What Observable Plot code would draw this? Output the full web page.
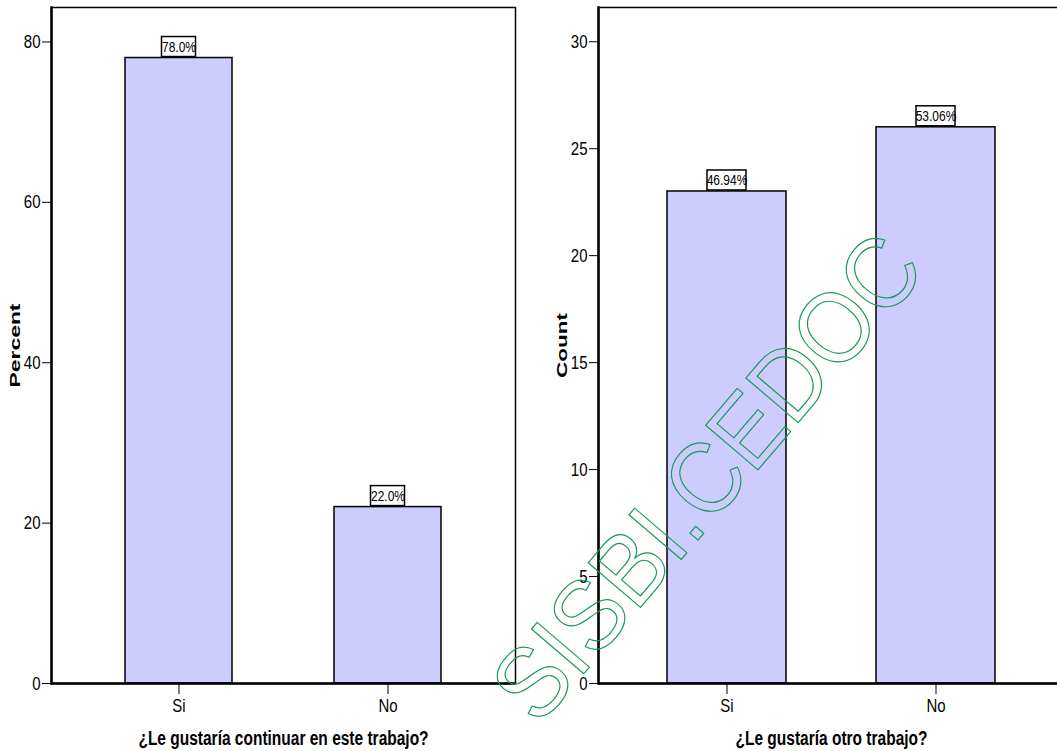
<!DOCTYPE html>
<html>
<head>
<meta charset="utf-8">
<script src="https://cdn.jsdelivr.net/npm/d3@7"></script>
<script src="https://cdn.jsdelivr.net/npm/@observablehq/plot@0.6"></script>
<style>
  html, body { margin: 0; padding: 0; background: #fff; }
  #wrap { position: relative; width: 1057px; height: 751px; overflow: hidden; background: #fff; }
  #wrap > svg { position: absolute; top: 0; }
</style>
</head>
<body>
<div id="wrap"></div>
<script>
// ---- data ----
const cats1 = ["Si", "No"];
const percent1 = [78.0, 22.0];
const labels1 = ["78.0%", "22.0%"];
const ticks1 = [0, 20, 40, 60, 80];
const xTitle1 = "¿Le gustaría continuar en este trabajo?";
const yTitle1 = "Percent";

const cats2 = ["Si", "No"];
const count2 = [23, 26];
const labels2 = ["46.94%", "53.06%"];
const ticks2 = [0, 5, 10, 15, 20, 25, 30];
const xTitle2 = "¿Le gustaría otro trabajo?";
const yTitle2 = "Count";

const watermark = "SISBI.CEDOC";

const data1 = cats1.map((c, i) => ({cat: c, v: percent1[i], label: labels1[i]}));
const data2 = cats2.map((c, i) => ({cat: c, v: count2[i], label: labels2[i]}));

const NARROW = "'Liberation Sans Narrow', 'Arial Narrow', 'Liberation Sans', sans-serif";
const WIDE = "'Liberation Sans', Arial, sans-serif";
const BAR = "#ccccff";

// wrap a text element in a <g> and scale it about its own centre (screen axes)
function stretchEl(el, sx, sy) {
  const g = document.createElementNS("http://www.w3.org/2000/svg", "g");
  el.parentNode.insertBefore(g, el);
  g.appendChild(el);
  const bb = g.getBBox();
  const cx = bb.x + bb.width / 2, cy = bb.y + bb.height / 2;
  g.setAttribute("transform",
    `translate(${cx},${cy}) scale(${sx},${sy}) translate(${-cx},${-cy})`);
}
function setLength(el, len) {
  el.setAttribute("textLength", len);
  el.setAttribute("lengthAdjust", "spacingAndGlyphs");
}

function panel({data, cats, ticks, ymax, xTitle, yTitle, width, ml, mr, pin, pout, boxInset}) {
  return Plot.plot({
    width, height: 751,
    marginLeft: ml, marginRight: mr, marginTop: 7, marginBottom: 68,
    style: {fontFamily: NARROW, fontSize: "15px", color: "#000", background: "transparent"},
    x: {domain: cats, paddingInner: pin, paddingOuter: pout, align: 0.5,
        tickSize: 11, tickPadding: 6, label: null},
    y: {domain: [0, ymax], ticks, tickSize: 9, tickPadding: 2, label: null, tickFormat: d => d},
    marks: [
      Plot.barY(data, {x: "cat", y: "v", fill: BAR, stroke: "#000", strokeWidth: 1.5}),
      Plot.barY(data, {x: "cat", y1: "v", y2: "v", insetLeft: boxInset, insetRight: boxInset,
                       insetTop: -21, insetBottom: 1, fill: "#fff", stroke: "#000", strokeWidth: 1.5}),
      Plot.text(data, {x: "cat", y: "v", text: "label", dy: -11, lineAnchor: "middle",
                       fontSize: 12, fontFamily: NARROW}),
      Plot.frame({stroke: "#000", strokeWidth: 1.5}),
      Plot.frame({anchor: "left", stroke: "#000", strokeWidth: 2.5}),
      Plot.ruleY([0], {stroke: "#000", strokeWidth: 2.5}),
      Plot.text([xTitle], {frameAnchor: "bottom", dy: 55, lineAnchor: "middle", textAnchor: "middle",
                           fontSize: 15.5, fontWeight: "bold", fontFamily: NARROW}),
      Plot.text([yTitle], {frameAnchor: "left", dx: -36, rotate: -90, lineAnchor: "middle",
                           textAnchor: "middle",
                           fontSize: 15, fontWeight: "bold", fontFamily: WIDE})
    ]
  });
}

const wrap = document.getElementById("wrap");

const left = panel({data: data1, cats: cats1, ticks: ticks1, ymax: 84.3,
  xTitle: xTitle1, yTitle: yTitle1, width: 530, ml: 51, mr: 15, pin: 0.488, pout: 0.354, boxInset: 36.5});
left.style.left = "0px";
wrap.appendChild(left);

const right = panel({data: data2, cats: cats2, ticks: ticks2, ymax: 31.6,
  xTitle: xTitle2, yTitle: yTitle2, width: 541, ml: 68, mr: 7, pin: 0.432, pout: 0.328, boxInset: 40});
right.style.left = "530px";
wrap.appendChild(right);

const wm = Plot.plot({
  width: 1057, height: 751, margin: 0, axis: null,
  style: {background: "transparent"},
  x: {domain: [0, 1]}, y: {domain: [0, 1]},
  marks: [
    Plot.text([watermark], {frameAnchor: "top-left", dx: 708, dy: 478, rotate: -49.5,
      fontSize: 100, fontFamily: WIDE, fill: "none", stroke: "#1a9a55", strokeWidth: 1.2,
      textAnchor: "middle", lineAnchor: "middle"})
  ]
});
wm.style.left = "0px";
wm.style.pointerEvents = "none";
wrap.appendChild(wm);

// the reference is drawn vertically stretched: mimic it on the texts
[[left, yTitle1, 84, xTitle1], [right, yTitle2, 65, xTitle2]].forEach(([svg, yt, len, xt]) => {
  Array.from(svg.querySelectorAll("text")).forEach(t => {
    if (t.textContent === yt) setLength(t, len);
    else if (t.textContent === xt) stretchEl(t, 1, 1.35);
    else stretchEl(t, 1, 1.22);
  });
});
Array.from(wm.querySelectorAll("text")).forEach(t => setLength(t, 600));
</script>
</body>
</html>
